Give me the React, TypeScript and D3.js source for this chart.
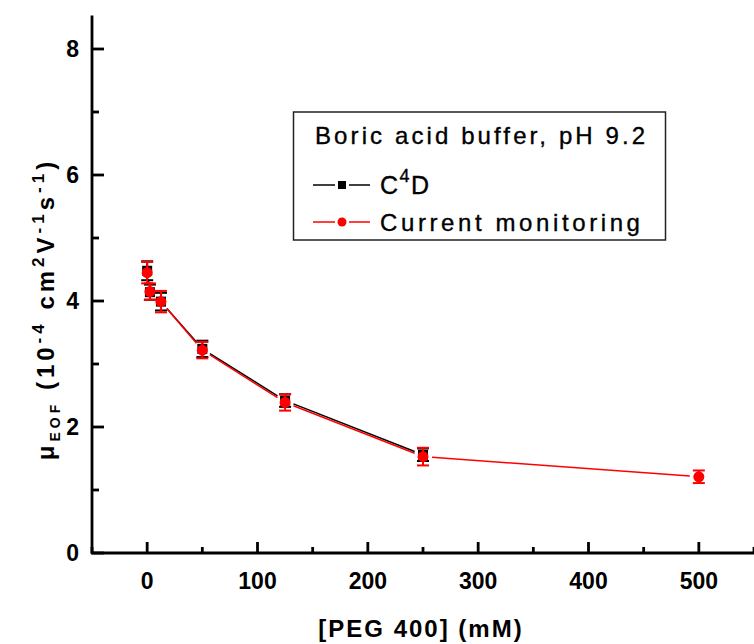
import React from "react";
import * as d3 from "d3";

// PEG 400 concentration (mM)
const pegC4D = [0, 2.5, 12.5, 50, 125, 250];
const pegCurrent = [0, 2.5, 12.5, 50, 125, 250, 500];
// EOF mobility (10^-4 cm^2 V^-1 s^-1)
const mobC4D = [4.48, 4.14, 3.99, 3.24, 2.42, 1.56];
const errC4D = [0.15, 0.12, 0.14, 0.13, 0.1, 0.1];
const mobCurrent = [4.45, 4.15, 3.99, 3.22, 2.39, 1.53, 1.21];
const errCurrent = [0.17, 0.13, 0.17, 0.13, 0.13, 0.14, 0.1];

const xTickValues = [0, 100, 200, 300, 400, 500];
const xMinorTicks = [-50, 50, 150, 250, 350, 450, 550];
const yTickValues = [0, 2, 4, 6, 8];
const yMinorTicks = [1, 3, 5, 7];

const W = 754;
const H = 644;
const FONT = "'Liberation Sans', Arial, sans-serif";

const x = d3.scaleLinear().domain([-50, 550]).range([92, 754]);
const y = d3.scaleLinear().domain([0, 8.5]).range([553, 17.5]);

type Pt = { px: number; py: number; e: number };

function points(xs: number[], ys: number[], es: number[]): Pt[] {
  return xs.map((v, i) => ({ px: x(v), py: y(ys[i]), e: es[i] }));
}

// line segments between markers, trimmed so they stop short of each symbol
function trimmedSegments(pts: Pt[], gap: number) {
  const segs: [number, number, number, number][] = [];
  for (let i = 0; i < pts.length - 1; i++) {
    const a = pts[i];
    const b = pts[i + 1];
    const dx = b.px - a.px;
    const dy = b.py - a.py;
    const len = Math.hypot(dx, dy);
    if (len <= gap * 2) continue;
    const ux = dx / len;
    const uy = dy / len;
    segs.push([a.px + ux * gap, a.py + uy * gap, b.px - ux * gap, b.py - uy * gap]);
  }
  return segs;
}

function Series({
  pts,
  color,
  shape,
}: {
  pts: Pt[];
  color: string;
  shape: "square" | "circle";
}) {
  const segs = trimmedSegments(pts, 9);
  return (
    <g>
      {segs.map((s, i) => (
        <line key={"l" + i} x1={s[0]} y1={s[1]} x2={s[2]} y2={s[3]} stroke={color} strokeWidth={1.5} />
      ))}
      {pts.map((p, i) => {
        const top = p.py - (y(0) - y(p.e));
        const bot = p.py + (y(0) - y(p.e));
        return (
          <g key={"e" + i} stroke={color} strokeWidth={2}>
            <line x1={p.px} x2={p.px} y1={top} y2={bot} />
            <line x1={p.px - 6} x2={p.px + 6} y1={top} y2={top} />
            <line x1={p.px - 6} x2={p.px + 6} y1={bot} y2={bot} />
          </g>
        );
      })}
      {pts.map((p, i) =>
        shape === "square" ? (
          <rect key={"m" + i} x={p.px - 5} y={p.py - 5} width={10} height={10} fill={color} />
        ) : (
          <circle key={"m" + i} cx={p.px} cy={p.py} r={5.5} fill={color} />
        )
      )}
    </g>
  );
}

export default function App() {
  const c4d = points(pegC4D, mobC4D, errC4D);
  const cur = points(pegCurrent, mobCurrent, errCurrent);
  const x0 = x.range()[0];
  const yBase = y(0);

  return (
    <svg
      width={W}
      height={H}
      style={{ position: "absolute", left: 0, top: 0, background: "#fff" }}
      fontFamily={FONT}
    >
      <rect width={W} height={H} fill="#fff" />

      {/* axes */}
      <g stroke="#000" strokeWidth={2.8}>
        <line x1={x0} x2={x0} y1={y.range()[1] - 2} y2={yBase + 1} />
        <line x1={x0 - 1} x2={W} y1={yBase} y2={yBase} />
        {yTickValues.map((t) => (
          <line key={"yt" + t} x1={x0} x2={x0 + 12} y1={y(t)} y2={y(t)} />
        ))}
        {yMinorTicks.map((t) => (
          <line key={"ym" + t} x1={x0} x2={x0 + 7} y1={y(t)} y2={y(t)} />
        ))}
        {xTickValues.map((t) => (
          <line key={"xt" + t} x1={x(t)} x2={x(t)} y1={yBase} y2={yBase - 11} />
        ))}
        {xMinorTicks.map((t) => (
          <line key={"xm" + t} x1={x(t)} x2={x(t)} y1={yBase} y2={yBase - 6} />
        ))}
      </g>

      <g fontWeight="bold" fontSize={23} fill="#000">
        {yTickValues.map((t) => (
          <text key={"yl" + t} x={79} y={y(t) + 8} textAnchor="end">
            {t}
          </text>
        ))}
        {xTickValues.map((t) => (
          <text key={"xl" + t} x={x(t)} y={589} textAnchor="middle">
            {t}
          </text>
        ))}
      </g>

      {/* axis titles */}
      <text x={421} y={637} textAnchor="middle" fontWeight="bold" fontSize={24} letterSpacing={2}>
        [PEG 400] (mM)
      </text>
      <text
        transform={`translate(54,${(463 + 155) / 2}) rotate(-90)`}
        textAnchor="middle"
        fontWeight="bold"
        fontSize={24}
        letterSpacing={4}
      >
        <tspan>μ</tspan>
        <tspan fontSize={14} dy={6}>EOF</tspan>
        <tspan dy={-6}> (10</tspan>
        <tspan fontSize={17} dy={-10}>-4</tspan>
        <tspan dy={10}> cm</tspan>
        <tspan fontSize={17} dy={-10}>2</tspan>
        <tspan dy={10}>V</tspan>
        <tspan fontSize={17} dy={-10}>-1</tspan>
        <tspan dy={10}>s</tspan>
        <tspan fontSize={17} dy={-10}>-1</tspan>
        <tspan dy={10}>)</tspan>
      </text>

      {/* data */}
      <Series pts={c4d} color="#000" shape="square" />
      <Series pts={cur} color="#ff0000" shape="circle" />

      {/* legend */}
      <rect x={293.5} y={112} width={372} height={128} fill="#fff" stroke="#222" strokeWidth={1.5} />
      <g stroke="#000" strokeWidth={0.35}>
        <text x={315} y={144} fontSize={24} letterSpacing={3.1}>
          Boric acid buffer, pH 9.2
        </text>
        <text x={380} y={194} fontSize={25} letterSpacing={1.5}>
          C<tspan fontSize={18} dy={-12}>4</tspan>
          <tspan dy={12}>D</tspan>
        </text>
        <text x={380} y={231} fontSize={24} letterSpacing={3.6}>
          Current monitoring
        </text>
      </g>
      <line x1={313} x2={335} y1={185} y2={185} stroke="#000" strokeWidth={1.5} />
      <line x1={349} x2={370} y1={185} y2={185} stroke="#000" strokeWidth={1.5} />
      <rect x={338} y={181} width={8} height={8} fill="#000" />
      <line x1={313} x2={335} y1={222} y2={222} stroke="#ff0000" strokeWidth={1.5} />
      <line x1={349} x2={370} y1={222} y2={222} stroke="#ff0000" strokeWidth={1.5} />
      <circle cx={342} cy={222} r={4.5} fill="#ff0000" />
    </svg>
  );
}
